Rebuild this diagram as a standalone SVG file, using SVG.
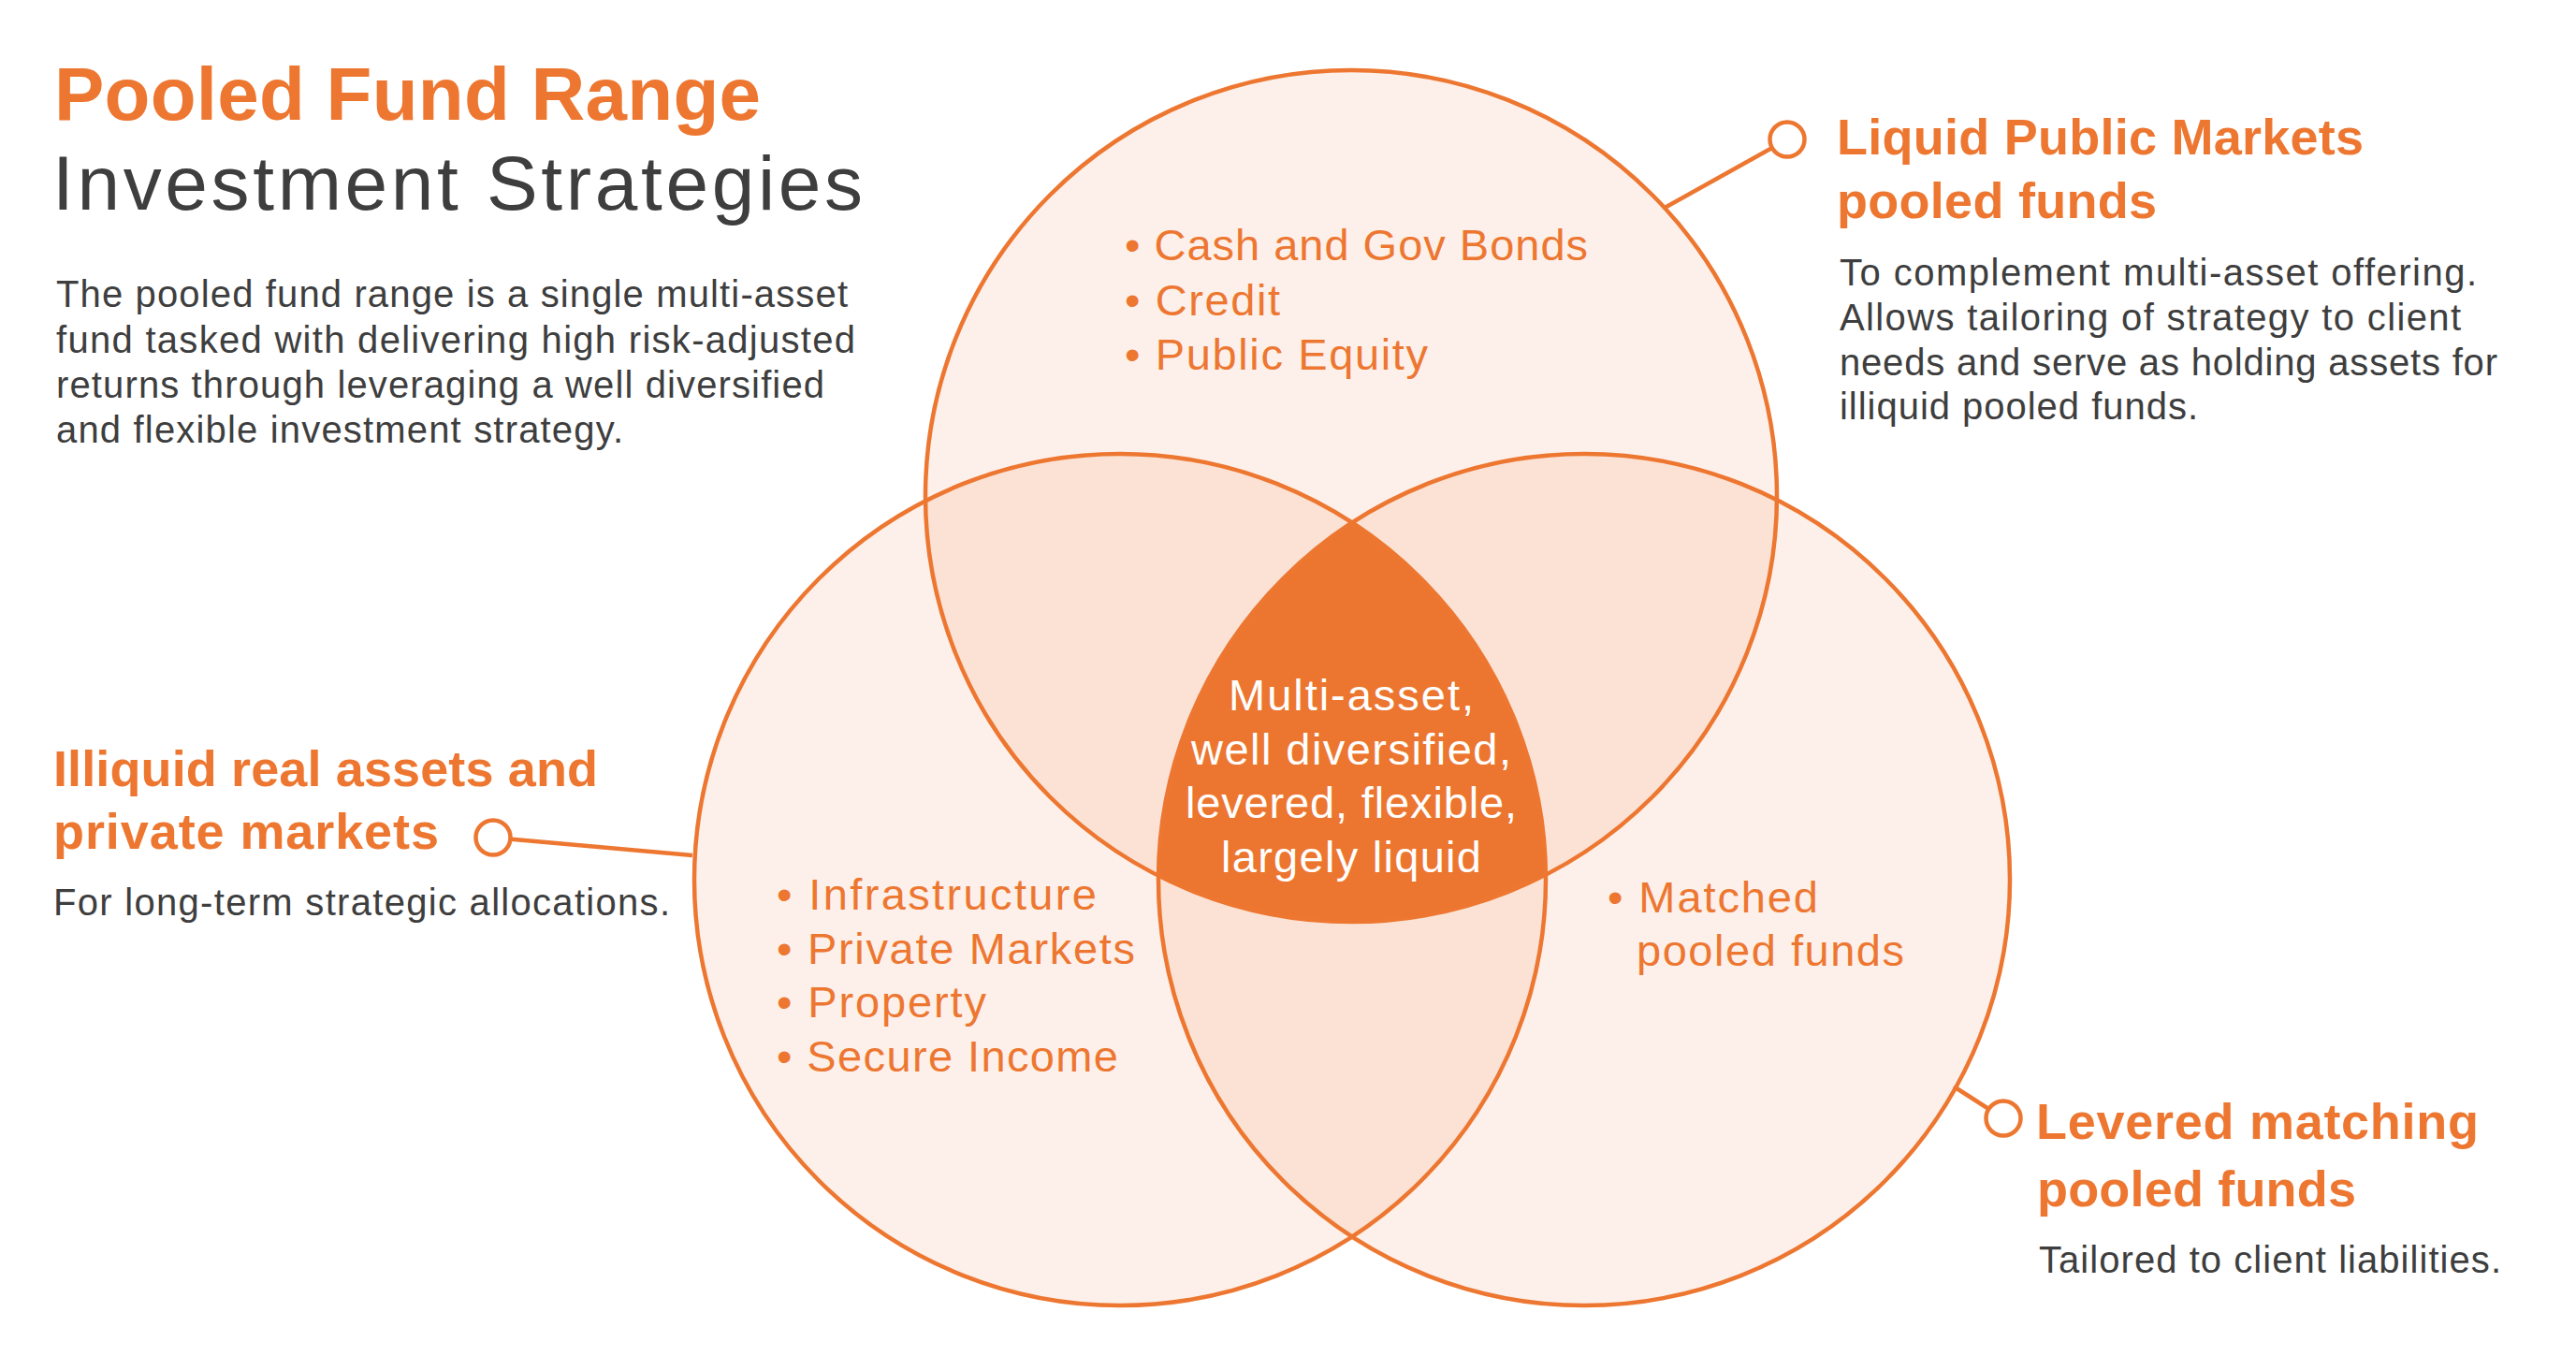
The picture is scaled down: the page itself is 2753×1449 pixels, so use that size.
<svg xmlns="http://www.w3.org/2000/svg" width="2753" height="1449" viewBox="0 0 2753 1449">
<defs>
<style>
.f{font-family:"Liberation Sans",Arial,Helvetica,sans-serif}
.title{font-size:80px;font-weight:bold;fill:#ED7731}
.subtitle{font-size:82px;fill:#3E3E3E}
.body{font-size:40px;fill:#3E3E3E}
.head{font-size:54px;font-weight:bold;fill:#ED7731}
.item{font-size:47px;fill:#ED7731}
.core{font-size:47px;fill:#FFFFFF}
.ring{fill:none;stroke:#ED7731;stroke-width:4.5}
.base{fill:#FDF0EA}
.pair{fill:#FBE2D5}
.triple{fill:#EC7630}
.conn{stroke:#ED7731;stroke-width:4.5;fill:none}
.dot{fill:#FFFFFF;stroke:#ED7731;stroke-width:4.5}
</style>
<clipPath id="clipTop"><circle cx="1444" cy="530" r="455"/></clipPath>
<clipPath id="clipLeft"><circle cx="1197" cy="940" r="455"/></clipPath>
<clipPath id="clipRight"><circle cx="1693" cy="940" r="455"/></clipPath>
</defs>
<rect x="0" y="0" width="2753" height="1449" fill="#FFFFFF"/>

<g id="heading">
<text class="f title" x="58" y="128" textLength="755">Pooled Fund Range</text>
<text class="f subtitle" x="56" y="224" textLength="866">Investment Strategies</text>
<text class="f body" x="60" y="328" textLength="846">The pooled fund range is a single multi-asset</text>
<text class="f body" x="60" y="377" textLength="854">fund tasked with delivering high risk-adjusted</text>
<text class="f body" x="60" y="425" textLength="821">returns through leveraging a well diversified</text>
<text class="f body" x="60" y="473" textLength="606">and flexible investment strategy.</text>
</g>

<g id="venn-regions">
<circle class="base" cx="1444" cy="530" r="455"/>
<circle class="base" cx="1197" cy="940" r="455"/>
<circle class="base" cx="1693" cy="940" r="455"/>
<circle class="pair" cx="1197" cy="940" r="455" clip-path="url(#clipTop)"/>
<circle class="pair" cx="1693" cy="940" r="455" clip-path="url(#clipTop)"/>
<circle class="pair" cx="1693" cy="940" r="455" clip-path="url(#clipLeft)"/>
<g clip-path="url(#clipLeft)"><circle class="triple" cx="1693" cy="940" r="455" clip-path="url(#clipTop)"/></g>
</g>

<g id="node-liquid-public">
<circle class="ring" cx="1444" cy="530" r="455"/>
<text class="f item" x="1202" y="278" textLength="495">• Cash and Gov Bonds</text>
<text class="f item" x="1202" y="337" textLength="166">• Credit</text>
<text class="f item" x="1202" y="395" textLength="324">• Public Equity</text>
</g>

<g id="node-illiquid">
<circle class="ring" cx="1197" cy="940" r="455"/>
<text class="f item" x="830" y="972" textLength="342">• Infrastructure</text>
<text class="f item" x="830" y="1030" textLength="383">• Private Markets</text>
<text class="f item" x="830" y="1087" textLength="224">• Property</text>
<text class="f item" x="830" y="1145" textLength="365">• Secure Income</text>
</g>

<g id="node-levered">
<circle class="ring" cx="1693" cy="940" r="455"/>
<text class="f item" x="1718" y="975" textLength="225">• Matched</text>
<text class="f item" x="1749" y="1032" textLength="286">pooled funds</text>
</g>

<g id="node-core">
<text class="f core" x="1444" y="759" text-anchor="middle" textLength="262">Multi-asset,</text>
<text class="f core" x="1444" y="817" text-anchor="middle" textLength="342">well diversified,</text>
<text class="f core" x="1444" y="874" text-anchor="middle" textLength="354">levered, flexible,</text>
<text class="f core" x="1444" y="932" text-anchor="middle" textLength="278">largely liquid</text>
</g>

<g id="connectors">
<line class="conn" x1="1779" y1="222" x2="1910" y2="149"/>
<line class="conn" x1="740" y1="914" x2="527" y2="895"/>
<line class="conn" x1="2088" y1="1161" x2="2141" y2="1195"/>
<circle class="dot" cx="1910" cy="149" r="18.5"/>
<circle class="dot" cx="527" cy="895" r="18.5"/>
<circle class="dot" cx="2141" cy="1195" r="18.5"/>
</g>

<g id="label-liquid-public">
<text class="f head" x="1963" y="165" textLength="563">Liquid Public Markets</text>
<text class="f head" x="1963" y="233" textLength="342">pooled funds</text>
<text class="f body" x="1966" y="305" textLength="681">To complement multi-asset offering.</text>
<text class="f body" x="1966" y="353" textLength="664">Allows tailoring of strategy to client</text>
<text class="f body" x="1966" y="401" textLength="703">needs and serve as holding assets for</text>
<text class="f body" x="1966" y="448" textLength="383">illiquid pooled funds.</text>
</g>

<g id="label-illiquid">
<text class="f head" x="57" y="840" textLength="582">Illiquid real assets and</text>
<text class="f head" x="57" y="907" textLength="412">private markets</text>
<text class="f body" x="57" y="978" textLength="659">For long-term strategic allocations.</text>
</g>

<g id="label-levered">
<text class="f head" x="2176" y="1217" textLength="473">Levered matching</text>
<text class="f head" x="2177" y="1289" textLength="341">pooled funds</text>
<text class="f body" x="2179" y="1360" textLength="494">Tailored to client liabilities.</text>
</g>
</svg>
